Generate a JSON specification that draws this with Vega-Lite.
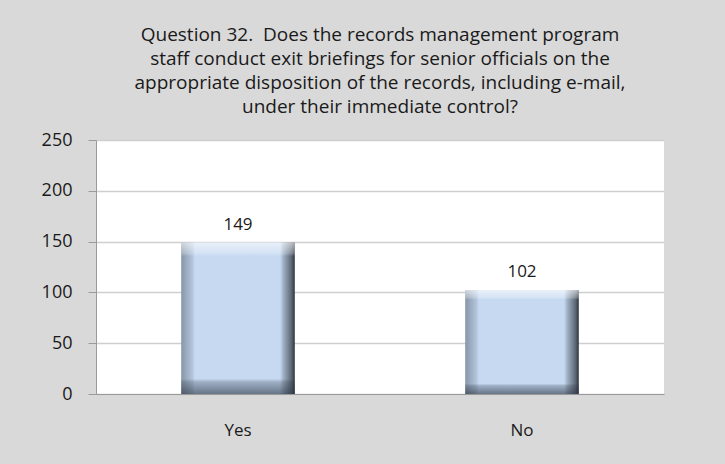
{
  "$schema": "https://vega.github.io/schema/vega-lite/v6.json",
  "width": 568,
  "height": 254,
  "autosize": "none",
  "padding": {"left": 96, "top": 140, "right": 61, "bottom": 70},
  "background": "#d9d9d9",
  "title": {
    "text": ["Question 32.\u00a0 Does the records management program", "staff conduct exit briefings for senior officials on the", "appropriate disposition of the records, including e-mail,", "under their immediate control?"],
    "font": "Open Sans",
    "fontSize": 19,
    "fontWeight": "normal",
    "color": "#1a1a1a",
    "lineHeight": 24,
    "anchor": "middle",
    "offset": 14
  },
  "data": {"values": [
    {"answer": "Yes", "count": 149},
    {"answer": "No", "count": 102}
  ]},
  "encoding": {
    "x": {"field": "answer", "type": "nominal", "sort": null,
      "scale": {"paddingInner": 0.6, "paddingOuter": 0.3},
      "axis": {"title": null, "labelAngle": 0, "labelFont": "Open Sans", "labelFontSize": 17, "labelColor": "#1a1a1a",
        "domainColor": "#9a9a9a", "ticks": false, "labelPadding": 28, "grid": false}},
    "y": {"field": "count", "type": "quantitative",
      "scale": {"domain": [0, 250]},
      "axis": {"title": null, "values": [0, 50, 100, 150, 200, 250], "labelFont": "Open Sans", "labelFontSize": 18, "labelColor": "#1a1a1a",
        "domainColor": "#9a9a9a", "tickColor": "#9a9a9a", "tickSize": 8, "labelPadding": 16,
        "gridColor": "#cfcfcf", "gridWidth": 1.5}}
  },
  "layer": [
    {"mark": {"type": "bar", "color": {"gradient": "linear", "x1": 0, "x2": 1, "y1": 0, "y2": 0,
      "stops": [
        {"offset": 0, "color": "#8796a8"},
        {"offset": 0.1, "color": "#b3c5dc"},
        {"offset": 0.12, "color": "#c6d9f1"},
        {"offset": 0.87, "color": "#c6d9f1"},
        {"offset": 0.9, "color": "#9fb0c4"},
        {"offset": 0.97, "color": "#5d6875"},
        {"offset": 1, "color": "#2e3640"}
      ]}}},
    {"mark": {"type": "bar", "color": {"gradient": "linear", "x1": 0, "x2": 0, "y1": 0, "y2": 1,
      "stops": [
        {"offset": 0, "color": "rgba(255,255,255,0.6)"},
        {"offset": 0.07, "color": "rgba(255,255,255,0.25)"},
        {"offset": 0.09, "color": "rgba(255,255,255,0)"},
        {"offset": 0.9, "color": "rgba(40,50,65,0)"},
        {"offset": 0.92, "color": "rgba(40,50,65,0.25)"},
        {"offset": 1, "color": "rgba(40,50,65,0.6)"}
      ]}}},
    {"mark": {"type": "text", "baseline": "bottom", "dy": -9, "font": "Open Sans", "fontSize": 17, "color": "#1a1a1a"},
      "encoding": {"text": {"field": "count", "type": "quantitative"}}}
  ],
  "config": {
    "view": {"fill": "white", "stroke": null}
  }
}
